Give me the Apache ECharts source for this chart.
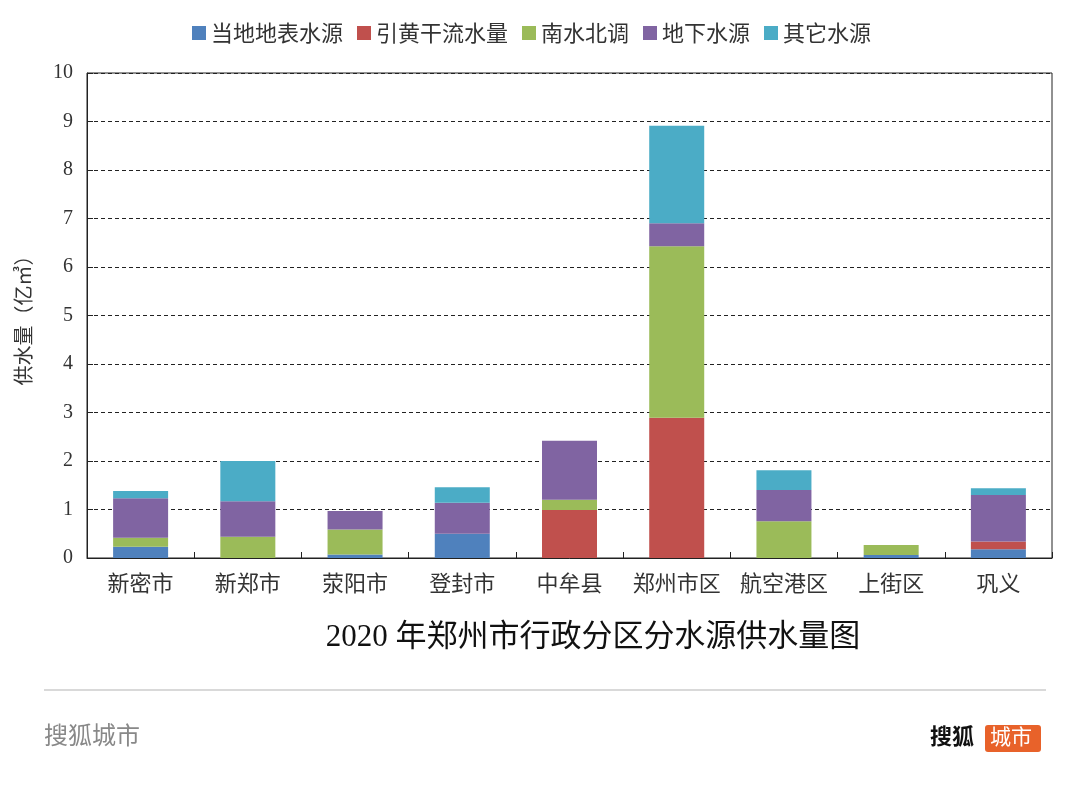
<!DOCTYPE html>
<html><head><meta charset="utf-8">
<script src="https://cdn.jsdelivr.net/npm/echarts@6/dist/echarts.min.js"></script>
<style>html,body{margin:0;padding:0;background:#fff}#c{width:1080px;height:793px}</style>
</head><body><div id="c"></div>
<script>
const categories = ['新密市','新郑市','荥阳市','登封市','中牟县','郑州市区','航空港区','上街区','巩义'];
const seriesNames = ['当地地表水源','引黄干流水量','南水北调','地下水源','其它水源'];
const localSurface = [0.23, 0, 0.07, 0.50, 0, 0, 0, 0.06, 0.18];
const yellowRiver  = [0, 0, 0, 0, 0.99, 2.89, 0, 0, 0.16];
const southNorth   = [0.19, 0.44, 0.52, 0, 0.21, 3.54, 0.76, 0.21, 0];
const groundwater  = [0.81, 0.73, 0.38, 0.64, 1.22, 0.47, 0.64, 0, 0.96];
const otherSource  = [0.15, 0.83, 0, 0.32, 0, 2.01, 0.41, 0, 0.14];
const yTicks = [0,1,2,3,4,5,6,7,8,9,10];

const colors = ['#4F81BD','#C0504D','#9BBB59','#8064A2','#4BACC6'];
const values = [localSurface, yellowRiver, southNorth, groundwater, otherSource];

const chart = echarts.init(document.getElementById('c'));
chart.setOption({
  animation:false,
  color: colors,
  legend:{
    top:17, left:187, itemWidth:14, itemHeight:14, itemGap:14, icon:'rect',
    textStyle:{fontSize:22, color:'#333', fontFamily:'"Noto Sans CJK SC", sans-serif', padding:[0,0,0,0]},
    data: seriesNames
  },
  title:{
    text:'2020 年郑州市行政分区分水源供水量图',
    left:588, top:617, textAlign:'center',
    textStyle:{fontSize:31, fontWeight:'normal', color:'#111', fontFamily:'"Liberation Serif","Times New Roman","Noto Sans CJK SC",serif'}
  },
  grid:{left:87, right:28, top:73, bottom:235, show:true, borderColor:'#222', borderWidth:1},
  xAxis:{
    type:'category', data:categories,
    axisLine:{lineStyle:{color:'#222'}},
    axisTick:{show:true, inside:true, length:6, interval:0, lineStyle:{color:'#222'}},
    axisLabel:{fontSize:22, color:'#333', margin:14, interval:0, fontFamily:'"Noto Sans CJK SC", sans-serif'}
  },
  yAxis:{
    type:'value', min:0, max:10, interval:1,
    name:'供水量（亿㎥）', nameLocation:'middle', nameGap:54, nameRotate:90,
    nameTextStyle:{fontSize:20, color:'#333', fontFamily:'"Noto Sans CJK SC", sans-serif'},
    axisLine:{show:true, lineStyle:{color:'#222'}},
    axisTick:{show:true, inside:true, length:6, lineStyle:{color:'#222'}},
    axisLabel:{fontSize:20, color:'#333', margin:14, fontFamily:'"Liberation Serif","Times New Roman",serif',
      formatter: v => yTicks.includes(v) ? String(v) : ''},
    splitLine:{show:true, lineStyle:{color:'#222', type:[4,3], width:1}}
  },
  series: seriesNames.map((n,i)=>({
    name:n, type:'bar', stack:'total', barWidth:55, data:values[i],
    itemStyle:{color:colors[i]}
  })),
  graphic:[
    {type:'line', shape:{x1:44,y1:690,x2:1046,y2:690}, style:{stroke:'#d9d9d9', lineWidth:2}},
    {type:'text', left:44, top:723, style:{text:'搜狐城市', fontSize:24, fill:'#888', fontFamily:'"Noto Sans CJK SC", sans-serif'}},
    {type:'text', left:930, top:725, style:{text:'搜狐', fontSize:22, fill:'#111', fontWeight:'bold', fontFamily:'"Noto Sans CJK SC", sans-serif'}},
    {type:'rect', shape:{x:985, y:725, width:56, height:27, r:3}, style:{fill:'#E8622A'}},
    {type:'text', left:990, top:726, style:{text:'城市', fontSize:21, fill:'#fff', fontFamily:'"Noto Sans CJK SC", sans-serif'}}
  ]
});
</script></body></html>
